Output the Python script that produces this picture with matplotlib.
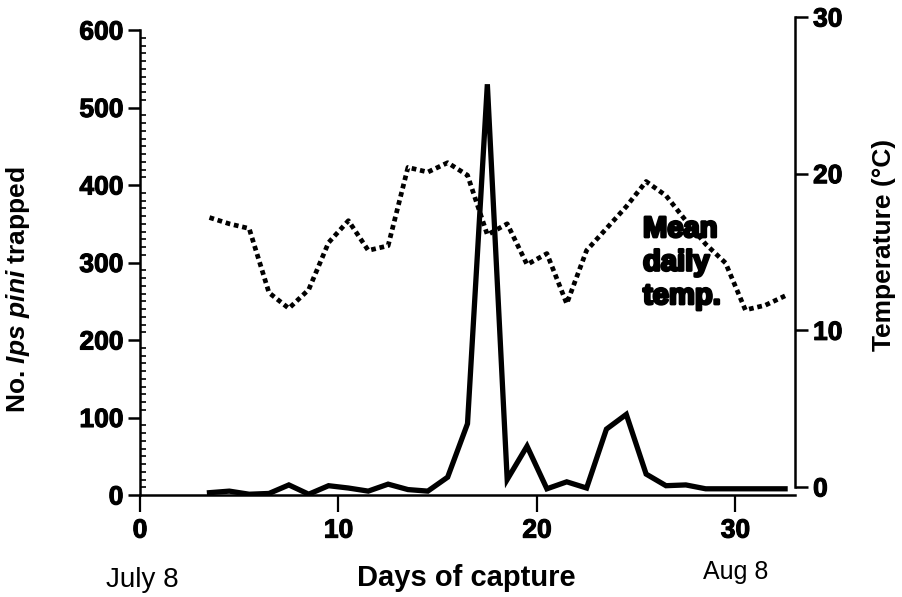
import matplotlib
matplotlib.use("Agg")
import matplotlib.pyplot as plt
import matplotlib.patheffects as pe
from matplotlib.ticker import MultipleLocator

plt.rcParams['font.family'] = ['Liberation Sans', 'DejaVu Sans']
plt.rcParams['mathtext.fontset'] = 'custom'
plt.rcParams['mathtext.it'] = 'Liberation Sans:italic:bold'
plt.rcParams['mathtext.rm'] = 'Liberation Sans:bold'

# ---- data ----
days = [3.5, 4.5, 5.5, 6.5, 7.5, 8.5, 9.5, 10.5, 11.5, 12.5,
        13.5, 14.5, 15.5, 16.5, 17.5, 18.5, 19.5, 20.5, 21.5, 22.5,
        23.5, 24.5, 25.5, 26.5, 27.5, 28.5, 29.5, 30.5, 31.5, 32.5]
trapped = [3, 5, 1, 2, 13, 1, 12, 9, 5, 14,
           7, 5, 23, 92, 530, 20, 63, 8, 17, 9,
           85, 104, 27, 12, 13, 8, 8, 8, 8, 8]
temp = [17.2, 16.8, 16.5, 12.4, 11.4, 12.6, 15.6, 17.0, 15.1, 15.4,
        20.4, 20.1, 20.7, 19.9, 16.1, 16.8, 14.2, 14.9, 11.7, 15.1,
        16.5, 17.9, 19.5, 18.6, 17.0, 15.5, 14.3, 11.3, 11.6, 12.2]
x_ticks = [0, 10, 20, 30]
left_ticks = [0, 100, 200, 300, 400, 500, 600]
right_ticks = [0, 10, 20, 30]

W, H = 903, 597
fig = plt.figure(figsize=(W / 100, H / 100), dpi=100)

def rect(l, r, b, t):
    return [l / W, (H - b) / H, (r - l) / W, (b - t) / H]

ax = fig.add_axes(rect(140, 795, 495, 30))
ax2 = fig.add_axes(rect(140, 795, 487, 17))
ax2.patch.set_visible(False)

bold_fx = [pe.withStroke(linewidth=0.8, foreground='black')]

# main (left) axis
ax.plot(days, trapped, color='black', lw=3.8, solid_joinstyle='miter', zorder=3)
ax.set_xlim(0, 33)
ax.set_ylim(0, 600)
ax.spines['top'].set_visible(False)
ax.spines['right'].set_visible(False)
ax.spines['left'].set_linewidth(1.8)
ax.spines['bottom'].set_linewidth(1.8)
ax.set_xticks(x_ticks)
ax.set_yticks(left_ticks)
ax.yaxis.set_minor_locator(MultipleLocator(10))
ax.tick_params(axis='y', which='major', direction='out', length=9, width=1.8,
               labelsize=19, pad=3)
ax.tick_params(axis='y', which='minor', direction='in', length=4, width=1.2)
ax.tick_params(axis='x', which='major', direction='out', length=12, width=1.6,
               labelsize=19, pad=5)
for lab in ax.get_xticklabels() + ax.get_yticklabels():
    lab.set_fontweight('bold')
    lab.set_path_effects(bold_fx)

# right (temperature) axis
ax2.plot(days, temp, color='black', lw=3.4, linestyle=(0, (1.0, 0.8)),
         dash_capstyle='butt', zorder=3)
ax2.set_xlim(0, 33)
ax2.set_ylim(0, 30)
for s in ['top', 'left', 'bottom']:
    ax2.spines[s].set_visible(False)
ax2.spines['right'].set_linewidth(1.8)
ax2.set_xticks([])
ax2.yaxis.tick_right()
ax2.set_yticks(right_ticks)
ax2.tick_params(axis='y', which='major', direction='out', length=9, width=1.8,
                labelsize=19, pad=4)
for lab in ax2.get_yticklabels():
    lab.set_fontweight('bold')
    lab.set_path_effects(bold_fx)

# labels
fig.text(18 / W, 1 - 290 / H, r"No. $Ips\ pini$ trapped", rotation=90,
         ha='center', va='center', fontsize=19, fontweight='bold')
fig.text(884 / W, 1 - 245 / H, "Temperature (°C)", rotation=90,
         ha='center', va='center', fontsize=19, fontweight='bold')
fig.text(466 / W, 1 - 578 / H, "Days of capture", ha='center', va='center',
         fontsize=21, fontweight='bold')
fig.text(142 / W, 1 - 580 / H, "July 8", ha='center', va='center', fontsize=20)
fig.text(736 / W, 1 - 572 / H, "Aug 8", ha='center', va='center', fontsize=18)
fig.text(643 / W, 1 - 215 / H, "Mean\ndaily\ntemp.", ha='left', va='top',
         fontsize=21, fontweight='heavy', linespacing=1.25,
         path_effects=[pe.withStroke(linewidth=2.0, foreground='black')])

fig.savefig("out.png", dpi=100)
